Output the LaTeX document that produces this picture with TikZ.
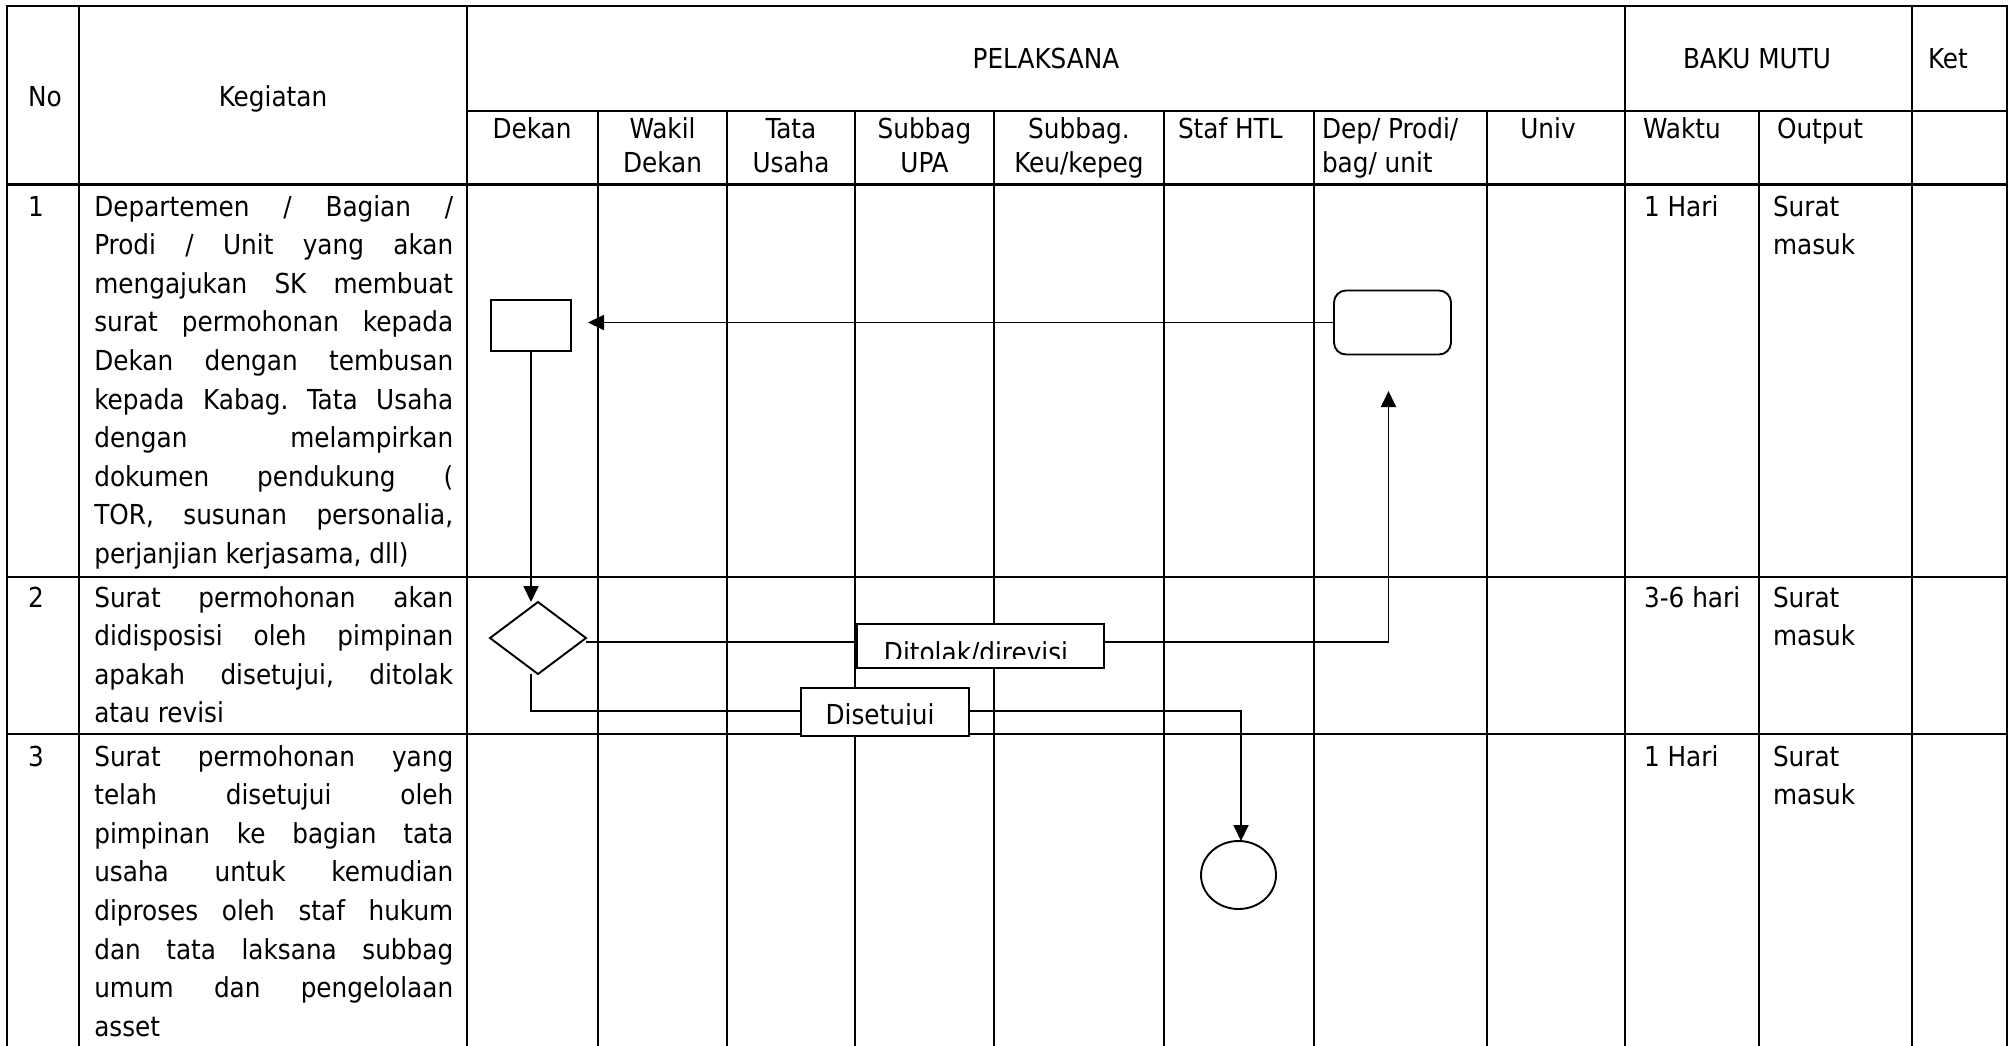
\documentclass[tikz,border=0pt]{standalone}
\usepackage{fontspec}
\setmainfont{DejaVu Sans Condensed}
\usetikzlibrary{arrows.meta,shapes.geometric}
\newcommand\Jc[1]{\hbox to 359pt{\frenchspacing\spaceskip=.3em plus 1fil\relax #1}}
\newcommand\Lc[1]{\hbox{#1}}
\newcommand\Cc[1]{\hbox to 0pt{\hss #1\hss}}
\newcommand\stk[2]{\vtop{\baselineskip=#1\relax #2}}
\begin{document}
\begin{tikzpicture}[x=1pt,y=-1pt,
  every node/.style={inner sep=0pt, outer sep=0pt},
  txt/.style={font=\fontsize{27.5pt}{33pt}\selectfont},
  grid/.style={line width=2.8pt, line cap=rect},
  shp/.style={draw, line width=1.9pt, fill=white},
  conn/.style={line width=1.8pt},
  arr/.style={conn, -{Triangle[length=16pt,width=15pt]}},
  lbl/.style={draw, line width=1.9pt, fill=white, rectangle}]
\useasboundingbox (0,0) rectangle (2015,1045);
\fill[white] (0,0) rectangle (2015,1045);
% grid
\foreach \x in {7,79,467,1625,1912,2007} \draw[grid] (\x,6) -- (\x,1045);
\foreach \x in {598,727,855,994,1164,1314,1487,1759} \draw[grid] (\x,111) -- (\x,1045);
\draw[grid] (7,6) -- (2007,6);
\draw[grid] (467,111) -- (2007,111);
\foreach \y in {184.5,577,734} \draw[grid] (7,\y) -- (2007,\y);
% header
\node[txt, anchor=base west] (hno) at (28,106) {No};
\node[txt, anchor=base] (hkeg) at (273,106) {Kegiatan};
\node[txt, anchor=base] (hpel) at (1046,68.5) {PELAKSANA};
\node[txt, anchor=base] (hbaku) at (1757,68.5) {BAKU MUTU};
\node[txt, anchor=base west] (hket) at (1928,68.5) {Ket};
\node[txt, anchor=base] (hdekan) at (532,138.3) {Dekan};
\node[txt, anchor=base] (hwakil) at (662.5,138.3) {\stk{34.5pt}{\Cc{Wakil}\Cc{Dekan}}};
\node[txt, anchor=base] (htata) at (791,138.3) {\stk{34.5pt}{\Cc{Tata}\Cc{Usaha}}};
\node[txt, anchor=base] (hupa) at (924.5,138.3) {\stk{34.5pt}{\Cc{Subbag}\Cc{UPA}}};
\node[txt, anchor=base] (hkeu) at (1079,138.3) {\stk{34.5pt}{\Cc{Subbag.}\Cc{Keu/kepeg}}};
\node[txt, anchor=base west] (hstaf) at (1178,138.3) {Staf HTL};
\node[txt, anchor=base west] (hdep) at (1322,138.3) {\stk{34.5pt}{\Lc{Dep/ Prodi/}\Lc{bag/ unit}}};
\node[txt, anchor=base] (huniv) at (1548,138.3) {Univ};
\node[txt, anchor=base] (hwaktu) at (1682,138.3) {Waktu};
\node[txt, anchor=base] (hout) at (1820,138.3) {Output};
% row 1
\node[txt, anchor=base west] (n1) at (28,216) {1};
\node[txt, anchor=base west] (k1) at (94.3,216) {\stk{38.6pt}{%
\Jc{Departemen / Bagian /}%
\Jc{Prodi / Unit yang akan}%
\Jc{mengajukan SK membuat}%
\Jc{surat permohonan kepada}%
\Jc{Dekan dengan tembusan}%
\Jc{kepada Kabag. Tata Usaha}%
\Jc{dengan melampirkan}%
\Jc{dokumen pendukung (}%
\Jc{TOR, susunan personalia,}%
\Lc{perjanjian kerjasama, dll)}}};
\node[txt, anchor=base west] (w1) at (1644,216) {1 Hari};
\node[txt, anchor=base west] (o1) at (1773,216) {\stk{38.6pt}{\Lc{Surat}\Lc{masuk}}};
% row 2
\node[txt, anchor=base west] (n2) at (28,607) {2};
\node[txt, anchor=base west] (k2) at (94.3,607) {\stk{38.6pt}{%
\Jc{Surat permohonan akan}%
\Jc{didisposisi oleh pimpinan}%
\Jc{apakah disetujui, ditolak}%
\Lc{atau revisi}}};
\node[txt, anchor=base west] (w2) at (1644,607) {3-6 hari};
\node[txt, anchor=base west] (o2) at (1773,607) {\stk{38.6pt}{\Lc{Surat}\Lc{masuk}}};
% row 3
\node[txt, anchor=base west] (n3) at (28,766) {3};
\node[txt, anchor=base west] (k3) at (94.3,766) {\stk{38.6pt}{%
\Jc{Surat permohonan yang}%
\Jc{telah disetujui oleh}%
\Jc{pimpinan ke bagian tata}%
\Jc{usaha untuk kemudian}%
\Jc{diproses oleh staf hukum}%
\Jc{dan tata laksana subbag}%
\Jc{umum dan pengelolaan}%
\Lc{asset}}};
\node[txt, anchor=base west] (w3) at (1644,766) {1 Hari};
\node[txt, anchor=base west] (o3) at (1773,766) {\stk{38.6pt}{\Lc{Surat}\Lc{masuk}}};
% flow shapes
\node[shp, rectangle, minimum width=80pt, minimum height=51pt] (dekanbox) at (531,325.5) {};
\node[shp, rectangle, rounded corners=12pt, minimum width=117pt, minimum height=64pt] (depbox) at (1392.5,322.5) {};
\node[shp, diamond, minimum width=96pt, minimum height=72pt] (dia) at (538,638) {};
\node[shp, ellipse, minimum width=75pt, minimum height=68pt] (circ) at (1238.5,875) {};
% connectors
\draw[arr, shorten >=17pt] (depbox.west) -- (depbox.west -| dekanbox.east);
\draw[arr] (dekanbox.south) -- (dekanbox.south |- dia.north);
\coordinate (revtip) at (1388.5,391);
\draw[arr] ([yshift=-4pt]dia.east) -| (revtip);
\coordinate (setturn) at (1241,711);
\draw[arr] (dekanbox.south |- dia.south) |- (setturn) -- (setturn |- circ.north);
% labels
\node[lbl, minimum width=247pt, minimum height=44pt] (tolak) at (980.5,646) {};
\begin{scope}
\clip (858,626) rectangle (1103,658);
\node[txt, anchor=base] (tolaktxt) at (976,662) {Ditolak/direvisi};
\end{scope}
\node[lbl, minimum width=168pt, minimum height=48pt] (setuju) at (885,712) {};
\begin{scope}
\clip (802,690) rectangle (968,724.5);
\node[txt, anchor=base] (setujutxt) at (880,724) {Disetujui};
\end{scope}
\end{tikzpicture}
\end{document}
